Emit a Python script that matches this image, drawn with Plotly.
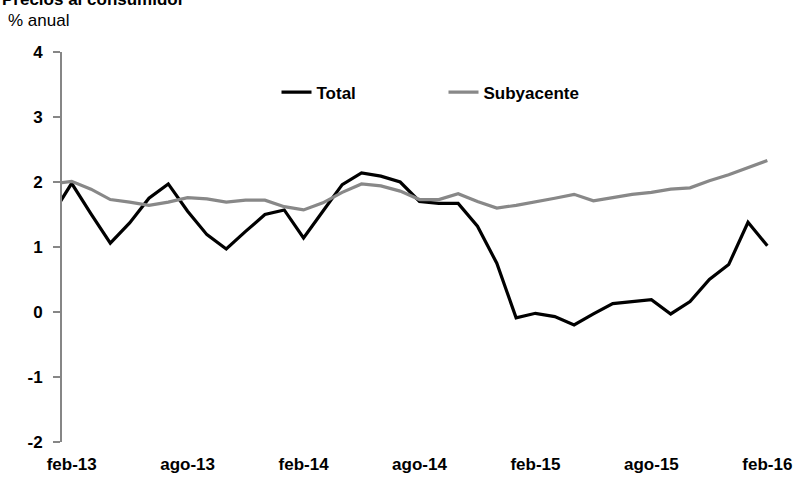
import plotly.graph_objects as go

# Months (first one, ene-13, lies just outside the visible range and is clipped)
months = ["ene-13", "feb-13", "mar-13", "abr-13", "may-13", "jun-13", "jul-13", "ago-13",
          "sep-13", "oct-13", "nov-13", "dic-13", "ene-14", "feb-14", "mar-14", "abr-14",
          "may-14", "jun-14", "jul-14", "ago-14", "sep-14", "oct-14", "nov-14", "dic-14",
          "ene-15", "feb-15", "mar-15", "abr-15", "may-15", "jun-15", "jul-15", "ago-15",
          "sep-15", "oct-15", "nov-15", "dic-15", "ene-16", "feb-16"]

total = [1.50, 1.98, 1.51, 1.06, 1.37, 1.75, 1.97, 1.55, 1.19, 0.97, 1.24, 1.50, 1.57,
         1.14, 1.55, 1.96, 2.14, 2.09, 2.00, 1.70, 1.67, 1.67, 1.32, 0.75, -0.09, -0.02,
         -0.07, -0.20, -0.03, 0.13, 0.16, 0.19, -0.03, 0.16, 0.50, 0.73, 1.38, 1.02]

subyacente = [1.97, 2.01, 1.89, 1.73, 1.69, 1.64, 1.69, 1.76, 1.74, 1.69, 1.72, 1.72, 1.62,
              1.57, 1.68, 1.84, 1.97, 1.94, 1.86, 1.73, 1.73, 1.82, 1.70, 1.60, 1.64, 1.69,
              1.75, 1.81, 1.71, 1.76, 1.81, 1.84, 1.89, 1.91, 2.02, 2.11, 2.22, 2.33]

tick_labels = ["feb-13", "ago-13", "feb-14", "ago-14", "feb-15", "ago-15", "feb-16"]
y_ticks = [-2, -1, 0, 1, 2, 3, 4]
y_tick_labels = ["-2", "-1", "0", "1", "2", "3", "4"]

x = list(range(-1, len(months) - 1))  # feb-13 -> 0
label_pos = [months.index(m) - 1 for m in tick_labels]
boundary_pos = [p - 0.5 for p in label_pos]

FONT = "Arial, Liberation Sans, sans-serif"
AXIS_COLOR = "#868686"

fig = go.Figure()
fig.add_trace(go.Scatter(x=x, y=total, mode="lines", name="Total",
                         line=dict(color="#000000", width=3.2)))
fig.add_trace(go.Scatter(x=x, y=subyacente, mode="lines", name="Subyacente",
                         line=dict(color="#888888", width=3.2)))

fig.update_layout(
    width=794, height=481,
    margin=dict(l=62, r=17, t=52, b=39),
    paper_bgcolor="white", plot_bgcolor="white",
    font=dict(family=FONT, size=17, color="#000000"),
    showlegend=True,
    legend=dict(orientation="h", x=0.300, y=0.896, xanchor="left", yanchor="middle",
                font=dict(family=FONT, size=17, color="#000000", weight="bold"),
                bgcolor="rgba(0,0,0,0)", entrywidth=122, entrywidthmode="pixels",
                itemwidth=30),
    xaxis=dict(range=[-0.5, 36.5], showgrid=False, zeroline=False, showline=False,
               tickmode="array", tickvals=label_pos, ticktext=tick_labels, ticks="",
               tickfont=dict(family=FONT, size=17, weight="bold"), fixedrange=True,
               ticklabelstandoff=10, automargin=False),
    xaxis2=dict(range=[-0.5, 36.5], overlaying="x", anchor="free", position=1/3,
                showgrid=False, zeroline=False, showline=True, linecolor=AXIS_COLOR,
                linewidth=2, tickmode="array", tickvals=boundary_pos, ticks="outside",
                ticklen=6, tickwidth=2, tickcolor=AXIS_COLOR, showticklabels=False,
                automargin=False),
    yaxis=dict(range=[-2, 4], showgrid=False, zeroline=False, showline=True,
               linecolor=AXIS_COLOR, linewidth=2, ticks="outside", ticklen=7,
               tickwidth=2, tickcolor=AXIS_COLOR, tickmode="array",
               tickvals=y_ticks, ticktext=y_tick_labels,
               tickfont=dict(family=FONT, size=17, weight="bold"),
               ticklabelstandoff=7, automargin=False),
    annotations=[
        dict(text="<b>Precios al consumidor</b>", xref="paper", yref="paper",
             x=-62/715, y=(442-11)/390, xanchor="left", yanchor="bottom",
             showarrow=False, font=dict(family=FONT, size=17)),
        dict(text="% anual", xref="paper", yref="paper",
             x=-56/715, y=(442-20)/390, xanchor="left", yanchor="middle",
             showarrow=False, font=dict(family=FONT, size=17)),
    ],
)

fig.write_html("out.html", config={"displayModeBar": False},
               post_script="document.body.style.margin='0';document.body.style.padding='0';")
